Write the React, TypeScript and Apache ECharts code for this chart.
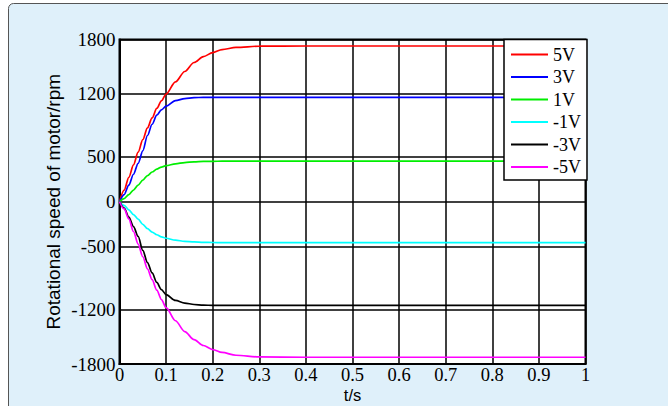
import React, { useEffect, useRef } from "react";
import * as echarts from "echarts";

const T = [0, 0.01, 0.02, 0.03, 0.04, 0.05, 0.06, 0.07, 0.08, 0.09, 0.1, 0.12, 0.14, 0.16, 0.18, 0.2, 0.22, 0.25, 0.3, 0.4, 0.5, 0.6, 0.7, 0.8, 0.9, 1.0];

const V5 = [0, 130, 270, 410, 550, 690, 820, 930, 1035, 1120, 1195, 1330, 1445, 1545, 1610, 1655, 1688, 1712, 1726, 1728, 1728, 1728, 1728, 1728, 1728, 1728];
const V3 = [0, 80, 185, 305, 425, 565, 735, 860, 960, 1020, 1060, 1122, 1145, 1155, 1158, 1158, 1158, 1158, 1158, 1158, 1158, 1158, 1158, 1158, 1158, 1158];
const V1 = [0, 35, 80, 130, 185, 240, 290, 330, 362, 385, 400, 421, 435, 443, 447, 449, 450, 450, 450, 450, 450, 450, 450, 450, 450, 450];
const VM1 = [0, -40, -90, -142, -193, -250, -298, -336, -366, -390, -405, -426, -439, -446, -450, -452, -453, -453, -453, -453, -453, -453, -453, -453, -453, -453];
const VM3 = [0, -70, -170, -275, -385, -540, -675, -790, -895, -975, -1030, -1095, -1124, -1140, -1147, -1150, -1150, -1150, -1150, -1150, -1150, -1150, -1150, -1150, -1150, -1150];
const VM5 = [0, -80, -190, -330, -470, -610, -745, -865, -980, -1085, -1175, -1320, -1440, -1530, -1595, -1640, -1672, -1703, -1722, -1725, -1725, -1725, -1725, -1725, -1725, -1725];

const SERIES_NAMES = ["5V", "3V", "1V", "-1V", "-3V", "-5V"];
const SERIES_VALUES = [V5, V3, V1, VM1, VM3, VM5];
const SERIES_COLORS = ["#ff0000", "#0000ff", "#00ee00", "#00ffff", "#000000", "#ff00ff"];

const Y_TICKS = [-1800, -1200, -500, 0, 500, 1200, 1800];

export default function App() {
  const ref = useRef<HTMLDivElement>(null);

  useEffect(() => {
    if (!ref.current) return;
    const chart = echarts.init(ref.current, null, { renderer: "svg" });
    const serif = "'Liberation Serif', 'Times New Roman', serif";
    const sans = "'Liberation Sans', Arial, sans-serif";
    chart.setOption({
      animation: false,
      backgroundColor: "#ffffff",
      graphic: [
        {
          type: "rect",
          z: -10,
          silent: true,
          shape: { x: 8.5, y: 3.5, width: 720, height: 500, r: 5 },
          style: { fill: "#dff0fa", stroke: "#555555", lineWidth: 1 },
        },
      ],
      grid: {
        left: 119.5,
        top: 39.5,
        width: 466,
        height: 324.5,
        outerBoundsMode: "none",
        containLabel: false,
        show: true,
        backgroundColor: "#ffffff",
        borderColor: "#000000",
        borderWidth: 2,
      },
      legend: {
        data: SERIES_NAMES,
        orient: "vertical",
        left: 504,
        top: 39.5,
        icon: "rect",
        itemWidth: 37,
        itemHeight: 2,
        itemGap: 4.5,
        padding: [6, 6, 4, 7],
        backgroundColor: "#ffffff",
        borderColor: "#000000",
        borderWidth: 1.5,
        borderRadius: 0,
        textStyle: { fontFamily: serif, fontSize: 18, color: "#000", lineHeight: 18 },
        z: 10,
      },
      xAxis: {
        type: "value",
        min: 0,
        max: 1,
        interval: 0.1,
        name: "t/s",
        nameLocation: "middle",
        nameGap: 22.5,
        nameMoveOverlap: false,
        nameTextStyle: { fontFamily: sans, fontSize: 16.5, color: "#000", lineHeight: 16 },
        axisLine: { show: true, onZero: false, lineStyle: { color: "#000", width: 2 } },
        axisTick: { show: false },
        axisLabel: {
          margin: 1.5,
          fontFamily: serif,
          fontSize: 18.5,
          lineHeight: 18,
          color: "#000",
          formatter: (v: number) => String(+v.toFixed(1)),
        },
        splitLine: { show: true, lineStyle: { color: "#000", width: 1.5 } },
      },
      yAxis: {
        type: "value",
        min: -1800,
        max: 1800,
        name: "Rotational speed of motor/rpm",
        nameLocation: "middle",
        nameGap: 57,
        nameMoveOverlap: false,
        nameTextStyle: { fontFamily: sans, fontSize: 19, color: "#000" },
        axisLine: { show: true, onZero: false, lineStyle: { color: "#000", width: 2 } },
        axisTick: { show: false, customValues: Y_TICKS },
        axisLabel: {
          margin: 4,
          fontFamily: serif,
          fontSize: 19,
          color: "#000",
          customValues: Y_TICKS,
          formatter: (v: number) => String(v),
        },
        splitLine: { show: true, lineStyle: { color: "#000", width: 1.5 } },
      },
      series: SERIES_NAMES.map((name, k) => ({
        name,
        type: "line",
        symbol: "none",
        smooth: 0.3,
        smoothMonotone: "x",
        z: 3,
        lineStyle: { color: SERIES_COLORS[k], width: 1.7 },
        itemStyle: { color: SERIES_COLORS[k] },
        data: T.map((t, i) => [t, SERIES_VALUES[k][i]]),
      })),
    });
    return () => chart.dispose();
  }, []);

  return (
    <div
      ref={ref}
      style={{ position: "fixed", left: 0, top: 0, width: 668, height: 406 }}
    />
  );
}
